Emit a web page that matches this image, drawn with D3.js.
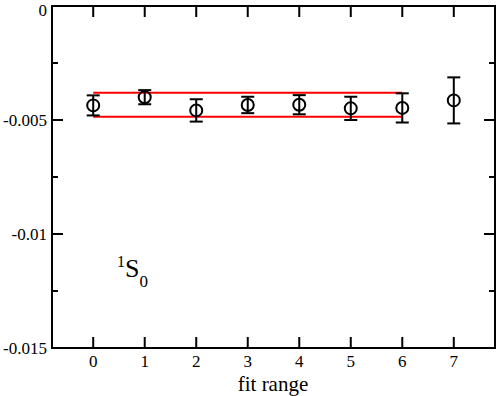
<!DOCTYPE html>
<html>
<head>
<meta charset="utf-8">
<script src="https://cdn.jsdelivr.net/npm/d3@7"></script>
<style>
  body { margin: 0; background: #fff; }
  text { font-family: "Liberation Serif", "DejaVu Serif", serif; }
</style>
</head>
<body>
<div id="chart"></div>
<script>
var fitRange = [0, 1, 2, 3, 4, 5, 6, 7]
var energy = [-0.00436, -0.00400, -0.00458, -0.00434, -0.00433, -0.00449, -0.00447, -0.00414]
var errors = [0.00044, 0.00031, 0.00049, 0.00036, 0.00042, 0.00051, 0.00064, 0.00101]
var bandLow = -0.00486, bandHigh = -0.00380, bandFrom = 0, bandTo = 6
var yTicks = [0, -0.005, -0.01, -0.015]
var yTickLabels = ["0", "-0.005", "-0.01", "-0.015"]
var yMinor = [-0.0025, -0.0075, -0.0125]

var width = 498, height = 396
// note: "top" is window.top, so use other names
var pLeft = 52, pRight = 495, pTop = 6, pBottom = 348

var svg = d3.select("#chart").append("svg").attr("width", width).attr("height", height)

var x = d3.scaleLinear().domain([-0.8, 7.8]).range([pLeft, pRight])
var y = d3.scaleLinear().domain([0, -0.015]).range([pTop, pBottom])

// ticks, all pointing in
var g = svg.append("g").attr("stroke", "#000").attr("stroke-width", 2)
fitRange.forEach(function(d) {
  g.append("line").attr("x1", x(d)).attr("x2", x(d)).attr("y1", pBottom).attr("y2", pBottom - 11)
  g.append("line").attr("x1", x(d)).attr("x2", x(d)).attr("y1", pTop).attr("y2", pTop + 11)
})
yTicks.forEach(function(d) {
  g.append("line").attr("x1", pLeft).attr("x2", pLeft + 11).attr("y1", y(d)).attr("y2", y(d))
  g.append("line").attr("x1", pRight).attr("x2", pRight - 11).attr("y1", y(d)).attr("y2", y(d))
})
yMinor.forEach(function(d) {
  g.append("line").attr("x1", pLeft).attr("x2", pLeft + 6).attr("y1", y(d)).attr("y2", y(d))
  g.append("line").attr("x1", pRight).attr("x2", pRight - 6).attr("y1", y(d)).attr("y2", y(d))
})

svg.append("rect").attr("x", pLeft).attr("y", pTop).attr("width", pRight - pLeft).attr("height", pBottom - pTop)
  .attr("fill", "none").attr("stroke", "#000").attr("stroke-width", 2)

// tick labels
fitRange.forEach(function(d) {
  svg.append("text").attr("x", x(d)).attr("y", pBottom + 19).attr("text-anchor", "middle")
    .attr("font-size", 17).text(d)
})
yTicks.forEach(function(d, i) {
  svg.append("text").attr("x", pLeft - 5).attr("y", Math.max(y(d) + 6, 15.5)).attr("text-anchor", "end")
    .attr("font-size", 17).text(yTickLabels[i])
})
svg.append("text").attr("x", 273).attr("y", 391).attr("text-anchor", "middle")
  .attr("font-size", 21).text("fit range")

// fit band
svg.selectAll(".band").data([bandLow, bandHigh]).enter().append("line").attr("class", "band")
  .attr("x1", x(bandFrom)).attr("x2", x(bandTo))
  .attr("y1", function(d) { return y(d) }).attr("y2", function(d) { return y(d) })
  .attr("stroke", "#ff0000").attr("stroke-width", 2)

// points with error bars
var pts = svg.selectAll(".pt").data(fitRange).enter().append("g").attr("class", "pt")
  .attr("stroke", "#000").attr("stroke-width", 2).attr("fill", "none")
pts.append("line").attr("x1", function(d) { return x(d) }).attr("x2", function(d) { return x(d) })
  .attr("y1", function(d, i) { return y(energy[i] + errors[i]) })
  .attr("y2", function(d, i) { return y(energy[i] - errors[i]) })
pts.append("line").attr("x1", function(d) { return x(d) - 6.5 }).attr("x2", function(d) { return x(d) + 6.5 })
  .attr("y1", function(d, i) { return y(energy[i] + errors[i]) })
  .attr("y2", function(d, i) { return y(energy[i] + errors[i]) })
pts.append("line").attr("x1", function(d) { return x(d) - 6.5 }).attr("x2", function(d) { return x(d) + 6.5 })
  .attr("y1", function(d, i) { return y(energy[i] - errors[i]) })
  .attr("y2", function(d, i) { return y(energy[i] - errors[i]) })
pts.append("circle").attr("cx", function(d) { return x(d) }).attr("cy", function(d, i) { return y(energy[i]) })
  .attr("r", 6).attr("fill", "none")

// state label
var lab = svg.append("text").attr("x", 117).attr("y", 277).attr("font-size", 26)
lab.append("tspan").attr("font-size", 16).attr("dy", -10).text("1")
lab.append("tspan").attr("dy", 10).text("S")
lab.append("tspan").attr("font-size", 17).attr("dy", 10).text("0")
</script>
</body>
</html>
